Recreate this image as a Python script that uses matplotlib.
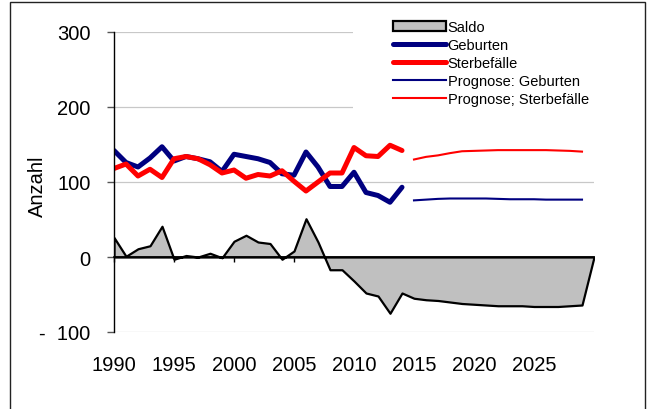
import matplotlib
matplotlib.use('Agg')
import matplotlib.pyplot as plt
from matplotlib.patches import Rectangle

plt.rcParams['font.family'] = ['Liberation Sans', 'DejaVu Sans']

# Werte
anos = list(range(1990, 2015))
geburten = [142, 126, 120, 132, 147, 128, 134, 131, 127, 114, 137, 134, 131, 126, 111,
            109, 140, 120, 94, 94, 113, 86, 82, 73, 93]
sterbefaelle = [118, 124, 108, 117, 106, 131, 134, 131, 123, 112, 116, 105, 110, 108, 115,
                101, 88, 100, 112, 112, 146, 135, 134, 149, 142]

anos_prognose = list(range(2015, 2030))
prognose_geburten = [75.5, 76.5, 77.5, 78, 78, 78, 78, 77.5, 77, 77, 77, 76.5, 76.5, 76.5, 76.5]
prognose_sterbefaelle = [130, 133.5, 135.5, 138.5, 141, 141.5, 142, 142.5, 142.5, 142.5, 142.5,
                         142.5, 142, 141.5, 140.5]

anos_saldo = list(range(1990, 2031))
saldo = [26, 1, 11, 15, 41, -3, 2, 0, 5, -1, 21, 29, 20, 18, -3, 8, 51, 20, -17, -17, -32,
         -48, -52, -75, -48,
         -55, -57, -58, -60, -62, -63, -64, -65, -65, -65, -66, -66, -66, -65, -64, 0]

xticks = [1990, 1995, 2000, 2005, 2010, 2015, 2020, 2025]
yticks = [-100, 0, 100, 200, 300]
ytick_labels = ['-  100', '0', '100', '200', '300']

fig = plt.figure(figsize=(6.48, 4.10), dpi=100)
ax = fig.add_axes([114/648, 1-333/410, 480/648, 300/410])

# Flaeche Saldo
ax.fill_between(anos_saldo, saldo, 0, facecolor='#c0c0c0', edgecolor='black', linewidth=1.6,
                label='Saldo', zorder=1.5)

# Linien
ax.plot(anos, geburten, color='#000080', lw=3.6, solid_capstyle='round',
        solid_joinstyle='round', label='Geburten')
ax.plot(anos, sterbefaelle, color='#ff0000', lw=3.6, solid_capstyle='round',
        solid_joinstyle='round', label='Sterbefälle')
ax.plot(anos_prognose, prognose_geburten, color='#000080', lw=1.5, label='Prognose: Geburten')
ax.plot(anos_prognose, prognose_sterbefaelle, color='#ff0000', lw=1.5,
        label='Prognose; Sterbefälle')

ax.set_xlim(1990, 2030)
ax.set_ylim(-100, 300)

# Achsen
ax.set_axisbelow(True)
ax.yaxis.grid(True, color='#c8c8c8', lw=0.9)
ax.spines['top'].set_visible(False)
ax.spines['right'].set_visible(False)
ax.spines['bottom'].set_position(('data', 0))
ax.spines['bottom'].set_linewidth(1.2)
ax.spines['left'].set_linewidth(1.0)

ax.set_xticks(xticks)
ax.tick_params(axis='x', direction='out', length=3.6, width=1, labelbottom=False)
ax.set_yticks(yticks)
ax.set_yticklabels(ytick_labels)
ax.tick_params(axis='y', direction='out', length=5, width=1, color='#555555', pad=12,
               labelsize=14.5)

sec = ax.secondary_xaxis('bottom')
sec.set_xticks(xticks)
sec.set_xticklabels([str(j) for j in xticks])
sec.tick_params(length=0, pad=16.5, labelsize=14.5)
sec.spines['bottom'].set_visible(False)

ax.set_ylabel('Anzahl', fontsize=14.5)
ax.yaxis.set_label_coords(-0.14, 0.49)

# weisser Hintergrund der Legende
ax.add_patch(Rectangle((353/648, 1-115/410), 290/648, 115/410, transform=fig.transFigure,
                       facecolor='white', edgecolor='none', zorder=0.9, clip_on=False))

ax.legend(loc='upper left', bbox_to_anchor=(393/648, 1-21/410), bbox_transform=fig.transFigure,
          frameon=False, fontsize=10.5, borderpad=0, borderaxespad=0, labelspacing=0.28,
          handlelength=3.6, handletextpad=0.15)

# Rahmen
fig.add_artist(Rectangle((10/648, -0.05), 635/648, 1.05-3/410, transform=fig.transFigure,
                         fill=False, edgecolor='#222222', lw=1.0))

plt.savefig('out.png', dpi=100)
